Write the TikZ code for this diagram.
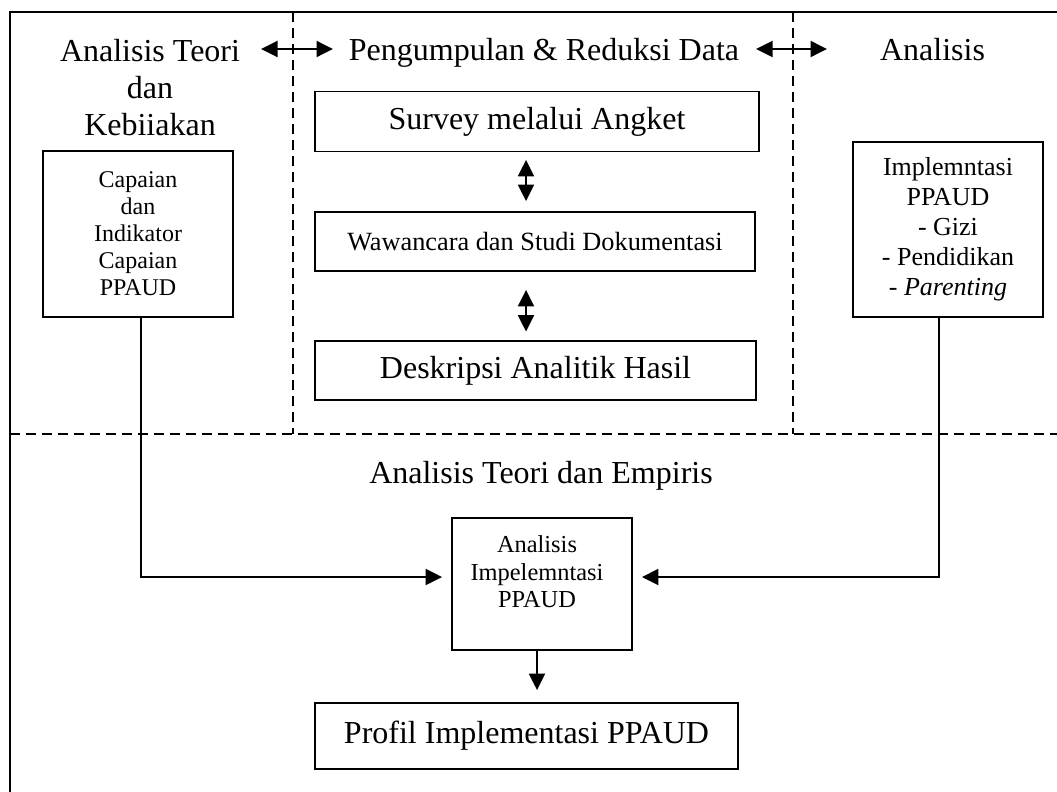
\documentclass[tikz,border=0pt]{standalone}
\usepackage{fontspec}
\setmainfont{Liberation Serif}
\usetikzlibrary{arrows.meta,calc}
\newcommand\fsbig{\fontsize{32}{37}\selectfont}
\newcommand\fsmid{\fontsize{26.3}{30}\selectfont}
\newcommand\fsbox{\fontsize{24}{27}\selectfont}
\begin{document}
\begin{tikzpicture}[x=1pt,y=-1pt,
  box/.style={draw, line width=1.9pt, inner sep=0pt, align=center},
  divline/.style={line width=1.5pt, dash pattern=on 10pt off 6pt},
  arr/.style={line width=1.9pt, -{Triangle[length=16.5pt,width=16pt]}},
  dbl/.style={line width=1.9pt, {Triangle[length=16.5pt,width=16pt]}-{Triangle[length=16.5pt,width=16pt]}},
  txt/.style={inner sep=0pt, align=center}]
\useasboundingbox (0,0) rectangle (1057,792);

% outer frame (top and left edges)
\draw[line width=1.9pt] (1057,12) -- (10,12) -- (10,792);

% section dividers
\draw[divline] (293,12) -- (293,434);
\draw[divline] (793,12) -- (793,434);
\draw[divline] (10,434) -- (1057,434);

% column headings
\node[txt, font=\fsbig] (hleft) at (150,88) {Analisis Teori\\dan\\Kebiiakan};
\node[txt, font=\fsbig, anchor=base] (hmid) at (544,61) {Pengumpulan \& Reduksi Data};
\node[txt, font=\fsbig, anchor=base] (hright) at (932.5,60) {Analisis};

\coordinate (a1l) at (261,49);
\coordinate (a1r) at (333,49);
\coordinate (a2l) at (756,49);
\coordinate (a2r) at (827,49);
\draw[dbl] (a1l) -- (a1r);
\draw[dbl] (a2l) -- (a2r);

% data collection steps
\node[box, font=\fsbig, minimum width=444, minimum height=60] (surv) at (537,121.5) {Survey melalui Angket};
\node[box, font=\fsmid, minimum width=440, minimum height=59] (waw) at (535,241.5) {Wawancara dan Studi Dokumentasi};
\node[box, font=\fsbig, minimum width=441, minimum height=59] (desk) at (535.5,370.5) {Deskripsi Analitik Hasil};

\coordinate (vx) at (526,0);
\draw[dbl, shorten <=7.5pt, shorten >=10pt] (surv.south -| vx) -- (waw.north -| vx);
\draw[dbl, shorten <=18pt, shorten >=8.5pt] (waw.south -| vx) -- (desk.north -| vx);

% side boxes
\node[box, font=\fsbox, minimum width=190, minimum height=166] (cap) at (138,234)
  {Capaian\\dan\\Indikator\\Capaian\\PPAUD};
\node[box, font=\fontsize{26}{30}\selectfont, minimum width=190, minimum height=175] (impl) at (948,229.5)
  {Implemntasi\\PPAUD\\- Gizi\\- Pendidikan\\- \textit{Parenting}};

% synthesis
\node[txt, font=\fsbig, anchor=base] (hbot) at (541,483) {Analisis Teori dan Empiris};
\node[box, minimum width=180, minimum height=132] (ana) at (542,584) {};
\node[txt, font=\fontsize{24.4}{27.5}\selectfont] (anatxt) at (537,572) {Analisis\\Impelemntasi\\PPAUD};
\node[box, font=\fsbig, minimum width=423, minimum height=66] (prof) at (526.5,736) {Profil Implementasi PPAUD};

\draw[arr, shorten >=9pt] ([xshift=3pt]cap.south) |- ([yshift=7pt]ana.west);
\draw[arr, shorten >=9pt] ([xshift=-9pt]impl.south) |- ([yshift=7pt]ana.east);
\coordinate (dn) at ([xshift=-5pt]ana.south);
\draw[arr, shorten >=12pt] (dn) -- (dn |- prof.north);
\end{tikzpicture}
\end{document}
